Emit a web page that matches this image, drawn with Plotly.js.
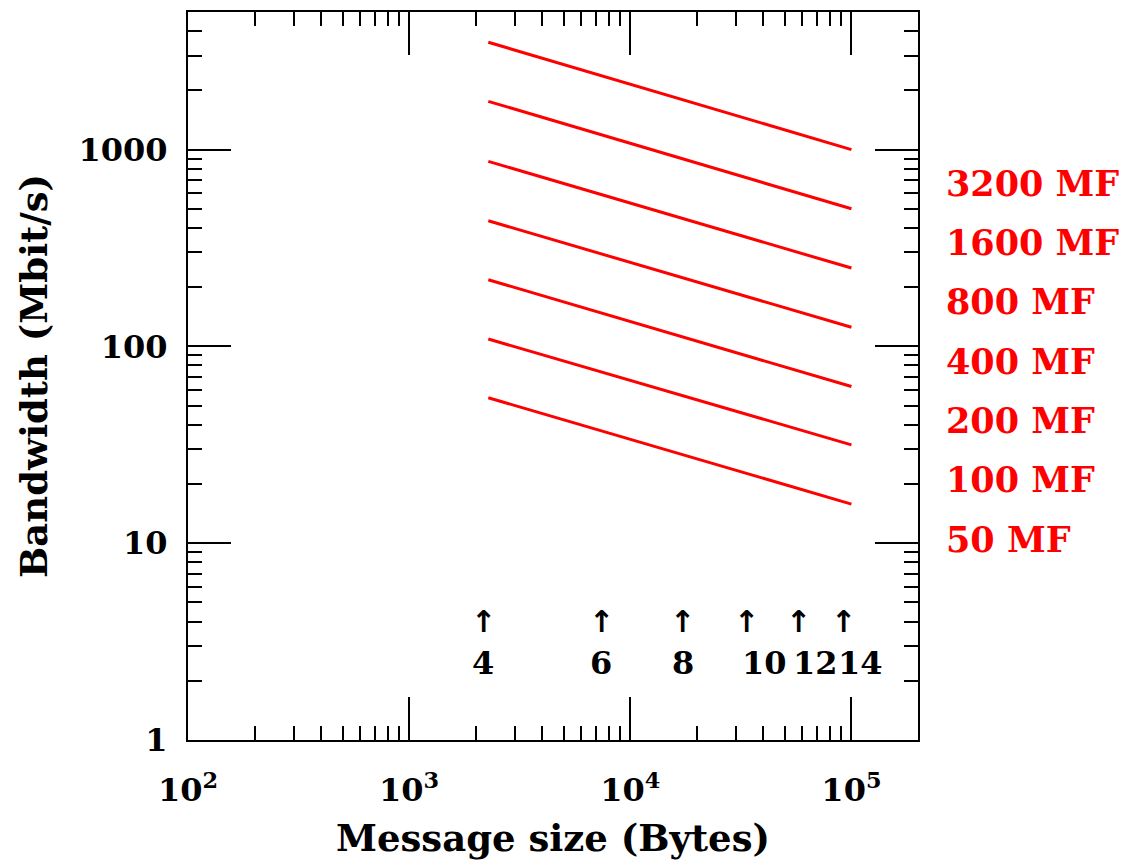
<!DOCTYPE html>
<html>
<head>
<meta charset="utf-8">
<script src="https://cdn.plot.ly/plotly-3.0.1.min.js"></script>
<style>html,body{margin:0;padding:0;background:#fff;}#chart{width:1123px;height:863px;}</style>
</head>
<body>
<div id="chart"></div>
<script>
// Data
const seriesNames = ["3200 MF", "1600 MF", "800 MF", "400 MF", "200 MF", "100 MF", "50 MF"];
const lineX = [2280, 100000];
const bwStart = [3510, 1758, 871, 435, 218, 109, 54.8];
const bwEnd = [1000, 500, 250, 125, 62.5, 31.6, 15.8];
const markerSizes = [2160, 7400, 17300, 33700, 57500, 92000];
const markerLabels = ["4", "6", "8", "10", "12", "14"];
const arrowLevel = 4;
const markerLabelLevel = 2.45;
const xTickVals = [100, 1000, 10000, 100000];
const xTickText = ["10<sup>2</sup>", "10<sup>3</sup>", "10<sup>4</sup>", "10<sup>5</sup>"];
const yTickVals = [1, 10, 100, 1000];
const yTickText = ["1", "10", "100", "1000"];

const FONT = "DejaVu Serif, Liberation Serif, serif";
const RED = "#ff0000";

const traces = seriesNames.map((name, i) => ({
  type: "scatter",
  mode: "lines",
  name: name,
  x: lineX,
  y: [bwStart[i], bwEnd[i]],
  line: {color: RED, width: 3},
  showlegend: false,
  hoverinfo: "skip"
}));

const annotations = [];
seriesNames.forEach((name, i) => {
  annotations.push({
    xref: "paper", yref: "paper",
    x: 1.035, y: 0.765 - i * 0.0815,
    xanchor: "left", yanchor: "middle",
    text: name, showarrow: false,
    font: {family: FONT, size: 35, color: RED, weight: "bold"}
  });
});
markerSizes.forEach((v, i) => {
  annotations.push({
    xref: "x", yref: "y",
    x: Math.log10(v), y: Math.log10(arrowLevel),
    xanchor: "center", yanchor: "middle",
    text: "↑", showarrow: false,
    font: {family: "DejaVu Sans, sans-serif", size: 30, color: "#000", weight: "bold"}
  });
  annotations.push({
    xref: "x", yref: "y",
    x: Math.log10(v), y: Math.log10(markerLabelLevel),
    xanchor: markerLabels[i].length > 1 ? "left" : "center",
    xshift: markerLabels[i].length > 1 ? -7 : 0,
    yanchor: "middle",
    text: markerLabels[i], showarrow: false,
    font: {family: FONT, size: 32, color: "#000", weight: "bold"}
  });
});

const axisCommon = {
  type: "log",
  showgrid: false,
  zeroline: false,
  showline: true,
  linecolor: "#000",
  linewidth: 2,
  mirror: "ticks",
  ticks: "inside",
  ticklen: 43,
  tickwidth: 2,
  tickcolor: "#000",
  tickmode: "array",
  tickfont: {family: FONT, size: 32, color: "#000", weight: "bold"},
  minor: {ticks: "inside", ticklen: 14, tickwidth: 2, tickcolor: "#000", dtick: "D1", showgrid: false}
};

const layout = {
  width: 1123, height: 863,
  margin: {l: 188, r: 205, t: 12, b: 123},
  paper_bgcolor: "#fff", plot_bgcolor: "#fff",
  showlegend: false,
  xaxis: Object.assign({}, axisCommon, {
    range: [2, Math.log10(200000)],
    tickvals: xTickVals,
    ticktext: xTickText,
    ticklabelstandoff: 21,
    title: {text: "Message size (Bytes)", font: {family: FONT, size: 37, color: "#000", weight: "bold"}, standoff: 17}
  }),
  yaxis: Object.assign({}, axisCommon, {
    range: [0, Math.log10(5000)],
    tickvals: yTickVals,
    ticktext: yTickText,
    ticklabelstandoff: 12,
    title: {text: "Bandwidth (Mbit/s)", font: {family: FONT, size: 37, color: "#000", weight: "bold"}, standoff: 20}
  }),
  annotations: annotations
};

Plotly.newPlot("chart", traces, layout, {displayModeBar: false, staticPlot: true});
</script>
</body>
</html>
